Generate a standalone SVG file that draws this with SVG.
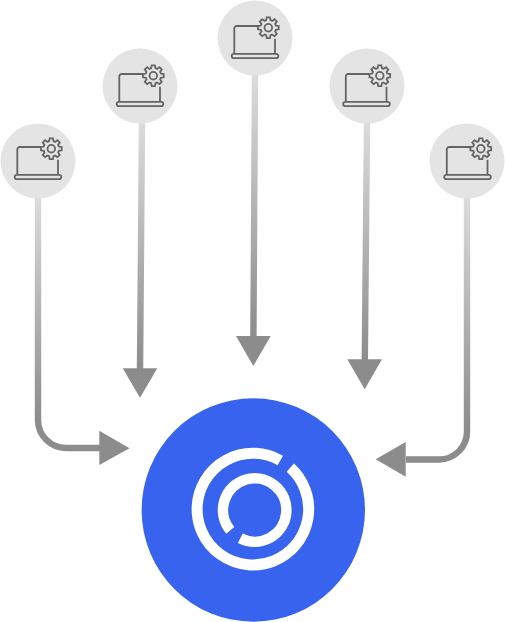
<svg xmlns="http://www.w3.org/2000/svg" width="505" height="622" viewBox="0 0 505 622">
<style>
.disc{fill:#e4e4e4}
.ic{fill:none;stroke:#646464;stroke-width:1.8}
.ln{fill:none;stroke-width:6.400}
.hd{fill:#8c8c8c}
.ring{fill:none;stroke:#fff}
</style>
<defs>
<linearGradient id="g1" gradientUnits="userSpaceOnUse" x1="0" y1="198" x2="0" y2="420"><stop offset="0" stop-color="#dcdcdc"/><stop offset="1" stop-color="#8c8c8c"/></linearGradient>
<linearGradient id="g2" gradientUnits="userSpaceOnUse" x1="0" y1="123" x2="0" y2="370"><stop offset="0" stop-color="#dcdcdc"/><stop offset="1" stop-color="#8c8c8c"/></linearGradient>
<linearGradient id="g3" gradientUnits="userSpaceOnUse" x1="0" y1="75" x2="0" y2="337"><stop offset="0" stop-color="#dcdcdc"/><stop offset="1" stop-color="#8c8c8c"/></linearGradient>
<linearGradient id="g4" gradientUnits="userSpaceOnUse" x1="0" y1="123" x2="0" y2="360"><stop offset="0" stop-color="#dcdcdc"/><stop offset="1" stop-color="#8c8c8c"/></linearGradient>
<linearGradient id="g5" gradientUnits="userSpaceOnUse" x1="0" y1="198" x2="0" y2="430"><stop offset="0" stop-color="#dcdcdc"/><stop offset="1" stop-color="#8c8c8c"/></linearGradient>
<g id="icon">
<path class="ic" d="M3.300-12H-18.200a2.500 2.500 0 0 0-2.500 2.500V16M20 .7V16"/>
<rect class="ic" x="-23.300" y="15.800" width="46.600" height="4.400" rx="2.200"/>
<path class="ic" transform="translate(13.300,-10.300)" d="M-2.150-7.500L-1.640-10.370H1.640L2.150-7.500 3.780-6.820 6.170-8.490 8.490-6.170 6.820-3.780 7.500-2.150 10.370-1.640V1.640L7.500 2.150 6.820 3.780 8.490 6.170 6.170 8.490 3.780 6.820 2.150 7.500 1.640 10.370H-1.640L-2.150 7.500-3.780 6.820-6.170 8.490-8.490 6.170-6.820 3.780-7.500 2.150-10.370 1.640V-1.640L-7.500-2.150-6.820-3.780-8.490-6.170-6.170-8.490-3.780-6.820Z"/>
<circle class="ic" cx="13.300" cy="-10.300" r="3.800"/>
</g>
</defs>
<g id="connectors">
<path class="ln" stroke="url(#g1)" d="M38 198V420a28 28 0 0 0 28 28H100"/>
<path class="hd" d="M99.300 430.700L129.500 448.300 99.300 465Z"/>
<path class="ln" stroke="url(#g2)" d="M142 123L140 370"/>
<path class="hd" d="M122.700 368.300H157.300L140 397.700Z"/>
<path class="ln" stroke="url(#g3)" d="M255 75L253.400 338"/>
<path class="hd" d="M236 336H270.700L253.300 366Z"/>
<path class="ln" stroke="url(#g4)" d="M367 123L364.800 361"/>
<path class="hd" d="M347.300 359.300H382L364.700 389.300Z"/>
<path class="ln" stroke="url(#g5)" d="M467 198V431a28 28 0 0 1-28 28.500H406"/>
<path class="hd" d="M405.700 442L375.700 459.300 405.700 476.700Z"/>
</g>
<g id="node-1"><circle class="disc" cx="38" cy="161" r="37.500"/><use href="#icon" x="38" y="159"/></g>
<g id="node-2"><circle class="disc" cx="140" cy="86" r="37.500"/><use href="#icon" x="140" y="86"/></g>
<g id="node-3"><circle class="disc" cx="255" cy="38" r="37.500"/><use href="#icon" x="255" y="38"/></g>
<g id="node-4"><circle class="disc" cx="367" cy="86" r="37.500"/><use href="#icon" x="366.500" y="86"/></g>
<g id="node-5"><circle class="disc" cx="467" cy="161" r="37.500"/><use href="#icon" x="467.500" y="159"/></g>
<g id="hub">
<circle cx="253.300" cy="510" r="111.700" fill="#3763ee"/>
<path class="ring" stroke-width="11" d="M290.300 467.700A55.800 55.800 0 1 1 280.300 460.500"/>
<path class="ring" stroke-width="10.500" d="M240.300 538.300A31.700 31.700 0 1 0 230.300 530.300"/>
</g>
</svg>
